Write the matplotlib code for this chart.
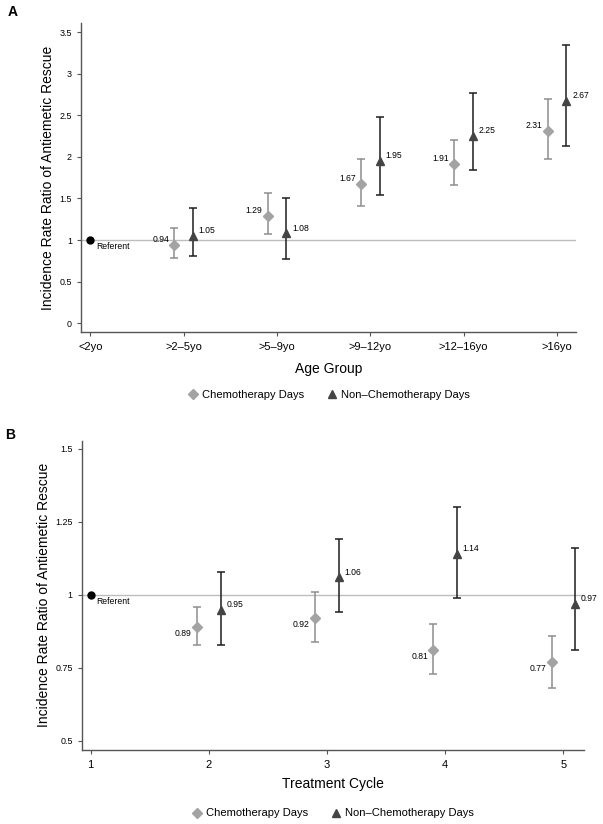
import numpy as np
import matplotlib
matplotlib.use("Agg")
import matplotlib.pyplot as plt

plt.rcParams['font.family'] = ['Liberation Sans', 'DejaVu Sans']

# --- Panel A: age groups ---
age_groups = ['<2yo', '>2–5yo', '>5–9yo', '>9–12yo', '>12–16yo', '>16yo']
age_chemo = [0.94, 1.29, 1.67, 1.91, 2.31]
age_chemo_lo = [0.79, 1.07, 1.41, 1.66, 1.98]
age_chemo_hi = [1.14, 1.57, 1.98, 2.20, 2.70]
age_nonchemo = [1.05, 1.08, 1.95, 2.25, 2.67]
age_nonchemo_lo = [0.81, 0.77, 1.54, 1.84, 2.13]
age_nonchemo_hi = [1.38, 1.51, 2.48, 2.77, 3.35]

# --- Panel B: treatment cycles ---
cycles = [1, 2, 3, 4, 5]
cyc_chemo = [0.89, 0.92, 0.81, 0.77]
cyc_chemo_lo = [0.83, 0.84, 0.73, 0.68]
cyc_chemo_hi = [0.96, 1.01, 0.90, 0.86]
cyc_nonchemo = [0.95, 1.06, 1.14, 0.97]
cyc_nonchemo_lo = [0.83, 0.94, 0.99, 0.81]
cyc_nonchemo_hi = [1.08, 1.19, 1.30, 1.16]

referent = 1.0

C_LIGHT = '#a3a3a3'
C_LIGHT_BAR = '#8e8e8e'
C_DARK = '#444444'
C_DARK_BAR = '#1e1e1e'


def draw_panel(ax, xref, xs, chemo, clo, chi, nonchemo, nlo, nhi,
               chemo_label_below=False):
    xs = np.asarray(xs, dtype=float)
    chemo, clo, chi = map(np.asarray, (chemo, clo, chi))
    nonchemo, nlo, nhi = map(np.asarray, (nonchemo, nlo, nhi))
    xc = xs - 0.1
    xn = xs + 0.1

    ax.axhline(referent, color='#bdbdbd', lw=1.0, zorder=1)

    ax.errorbar(xc, chemo, yerr=[chemo - clo, chi - chemo], fmt='none',
                ecolor=C_LIGHT_BAR, elinewidth=1.1, capsize=2.6,
                capthick=1.1, zorder=2)
    ax.errorbar(xn, nonchemo, yerr=[nonchemo - nlo, nhi - nonchemo],
                fmt='none', ecolor=C_DARK_BAR, elinewidth=1.1, capsize=2.6,
                capthick=1.1, zorder=2)
    h1, = ax.plot(xc, chemo, 'D', color=C_LIGHT, ms=5.6, mec=C_LIGHT,
                  ls='none', zorder=3, label='Chemotherapy Days')
    h2, = ax.plot(xn, nonchemo, '^', color=C_DARK, ms=6.2, mec=C_DARK,
                  ls='none', zorder=3, label='Non–Chemotherapy Days')
    ax.plot([xref], [referent], 'o', color='black', ms=5, zorder=3)
    ax.annotate('Referent', (xref, referent), xytext=(4.3, -4.8),
                textcoords='offset points', ha='left', va='center',
                fontsize=6.2)

    dy = -4.3 if chemo_label_below else 4.0
    for x, v in zip(xc, chemo):
        ax.annotate(f'{v:.2f}', (x, v), xytext=(-3.8, dy),
                    textcoords='offset points', ha='right', va='center',
                    fontsize=6.2)
    for x, v in zip(xn, nonchemo):
        ax.annotate(f'{v:.2f}', (x, v), xytext=(4.2, 3.8),
                    textcoords='offset points', ha='left', va='center',
                    fontsize=6.2)

    for side in ('top', 'right'):
        ax.spines[side].set_visible(False)
    for side in ('left', 'bottom'):
        ax.spines[side].set_color('#555555')
        ax.spines[side].set_linewidth(1.0)
    ax.tick_params(axis='both', colors='#555555', length=3, width=0.8,
                   labelcolor='black')
    ax.tick_params(axis='y', labelsize=6.4)
    ax.tick_params(axis='x', labelsize=8, pad=4.2)
    return h1, h2


fig = plt.figure(figsize=(6.03, 8.24), dpi=100)

# Panel A
axA = fig.add_axes([0.1343, 0.5971, 0.8204, 0.375])
hA = draw_panel(axA, 0, np.arange(1, 6), age_chemo, age_chemo_lo,
                age_chemo_hi, age_nonchemo, age_nonchemo_lo, age_nonchemo_hi)
axA.set_xticks(np.arange(len(age_groups)))
axA.set_xticklabels(age_groups)
axA.set_xlim(-0.1, 5.2)
axA.set_ylim(-0.105, 3.61)
axA.set_yticks([0, 0.5, 1, 1.5, 2, 2.5, 3, 3.5])
axA.set_yticklabels(['0', '0.5', '1', '1.5', '2', '2.5', '3', '3.5'])
axA.set_xlabel('Age Group', fontsize=10, labelpad=7)
axA.set_ylabel('Incidence Rate Ratio of Antiemetic Rescue', fontsize=10,
               labelpad=3)
axA.legend(handles=hA, loc='center', bbox_to_anchor=(0.5, -0.205),
           ncol=2, frameon=False, fontsize=8, handletextpad=0.3,
           columnspacing=2.0, handlelength=1.0)
fig.text(0.012, 0.986, 'A', fontsize=10, fontweight='bold', va='center')

# Panel B
axB = fig.add_axes([0.1355, 0.0898, 0.833, 0.3754])
hB = draw_panel(axB, 1, cycles[1:], cyc_chemo, cyc_chemo_lo, cyc_chemo_hi,
                cyc_nonchemo, cyc_nonchemo_lo, cyc_nonchemo_hi,
                chemo_label_below=True)
axB.set_xticks(cycles)
axB.set_xticklabels([str(c) for c in cycles])
axB.set_xlim(0.924, 5.175)
axB.set_ylim(0.469, 1.528)
axB.set_yticks([0.5, 0.75, 1, 1.25, 1.5])
axB.set_yticklabels(['0.5', '0.75', '1', '1.25', '1.5'])
axB.set_xlabel('Treatment Cycle', fontsize=10, labelpad=5)
axB.set_ylabel('Incidence Rate Ratio of Antiemetic Rescue', fontsize=10,
               labelpad=3)
axB.legend(handles=hB, loc='center', bbox_to_anchor=(0.5, -0.205),
           ncol=2, frameon=False, fontsize=8, handletextpad=0.3,
           columnspacing=2.0, handlelength=1.0)
fig.text(0.008, 0.472, 'B', fontsize=10, fontweight='bold', va='center')

fig.savefig('out.png', dpi=100)
